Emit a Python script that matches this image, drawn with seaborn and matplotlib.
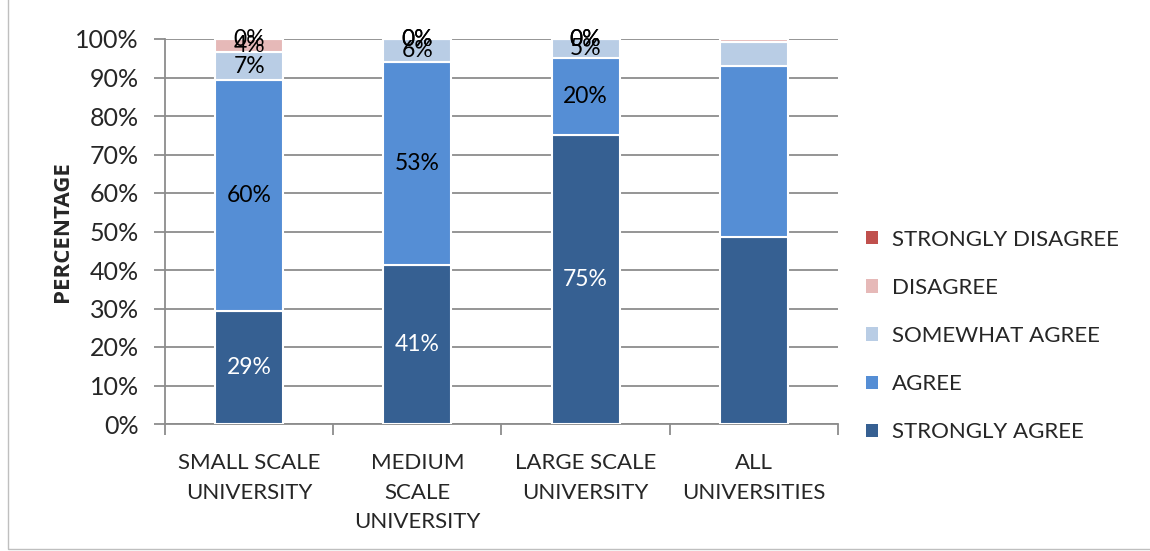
import numpy as np
import pandas as pd
import matplotlib
matplotlib.use("Agg")
import matplotlib.pyplot as plt
from matplotlib.patches import Patch, Rectangle
import seaborn as sns

categories = ["SMALL SCALE\nUNIVERSITY", "MEDIUM\nSCALE\nUNIVERSITY", "LARGE SCALE\nUNIVERSITY", "ALL\nUNIVERSITIES"]
series_names = ["STRONGLY AGREE", "AGREE", "SOMEWHAT AGREE", "DISAGREE", "STRONGLY DISAGREE"]
strongly_agree = [29.3, 41.2, 75.0, 48.6]
agree = [60.1, 52.9, 20.0, 44.5]
somewhat_agree = [7.1, 5.9, 5.0, 6.0]
disagree = [3.5, 0.0, 0.0, 0.9]
strongly_disagree = [0.0, 0.0, 0.0, 0.0]
labels_shown = [True, True, True, False]
colors = ["#366092", "#558ED5", "#B9CDE5", "#E6B9B8", "#C0504D"]
label_colors = ["white", "black", "black", "black", "black"]

series = [strongly_agree, agree, somewhat_agree, disagree, strongly_disagree]

sns.set_style("white")
plt.rcParams["font.family"] = ["Lato", "DejaVu Sans"]

fig = plt.figure(figsize=(11.5, 5.51), dpi=100)
ax = fig.add_axes([165/1150, 1 - 424/551, (838-165)/1150, (424-39)/551])

bottom = np.zeros(len(categories))
for name, vals, col, lc in zip(series_names, series, colors, label_colors):
    vals = np.array(vals, dtype=float)
    df = pd.DataFrame({"cat": categories, "val": vals})
    sns.barplot(data=df, x="cat", y="val", bottom=bottom, color=col, width=0.404,
                edgecolor="white", linewidth=1.5, ax=ax, zorder=3, saturation=1)
    for i, (v, b) in enumerate(zip(vals, bottom)):
        if labels_shown[i]:
            ax.text(i, b + v / 2, f"{round(v):.0f}%", ha="center", va="center",
                    fontsize=16.5, color=lc, zorder=5)
    bottom = bottom + vals

ax.set_ylim(0, 100)
ax.set_xlim(-0.5, len(categories) - 0.5)
ax.set_yticks(np.arange(0, 101, 10))
ax.set_yticklabels([f"{t}%" for t in range(0, 101, 10)], fontsize=18)
ax.yaxis.grid(True, color="#8C8C8C", linewidth=1.3, zorder=0)
ax.set_axisbelow(True)
ax.tick_params(axis="y", length=8, width=1.3, color="#8C8C8C", left=True, pad=11)
ax.set_xticks(range(len(categories)))
ax.set_xticklabels(categories, fontsize=16, linespacing=1.6)
ax.set_xticks(np.arange(-0.5, len(categories), 1), minor=True)
ax.tick_params(axis="x", which="major", length=0, pad=21)
ax.tick_params(axis="x", which="minor", length=8, width=1.3, color="#8C8C8C", bottom=True)
for s in ["top", "right"]:
    ax.spines[s].set_visible(False)
ax.spines["left"].set_color("#8C8C8C")
ax.spines["bottom"].set_color("#8C8C8C")
ax.spines["left"].set_linewidth(1.3)
ax.spines["bottom"].set_linewidth(1.3)
ax.set_xlabel("")
ax.set_ylabel("PERCENTAGE", fontsize=16, fontweight="bold",
              family=["Open Sans", "DejaVu Sans"])
ax.yaxis.set_label_coords(-(165 - 73) / (838 - 165), 0.5)

handles = [Patch(facecolor=c, edgecolor="none") for c in colors][::-1]
leg = fig.legend(handles, series_names[::-1], loc="center left",
                 bbox_to_anchor=(846/1150, 1 - 336/551), frameon=False,
                 fontsize=16, handlelength=0.55, handleheight=0.55,
                 handletextpad=0.6, labelspacing=1.27)

fig.patches.append(Rectangle((8/1150, 2/551), 1.2, 1.2, transform=fig.transFigure,
                             fill=False, edgecolor="#BFBFBF", linewidth=1))
fig.savefig("out.png", dpi=100)
